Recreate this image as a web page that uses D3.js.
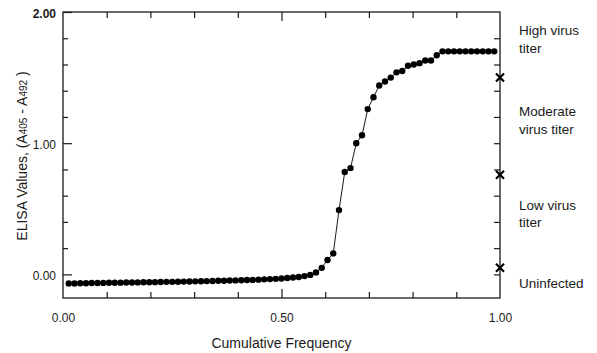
<!DOCTYPE html>
<html>
<head>
<meta charset="utf-8">
<script src="https://cdn.jsdelivr.net/npm/d3@7"></script>
<style>
  body { margin: 0; background: #fff; }
  svg { font-family: "Liberation Sans", Arial, sans-serif; }
</style>
</head>
<body>
<div id="my_dataviz"></div>
<script>
// ELISA values sorted, plotted against cumulative frequency
var elisa = [
  -0.070, -0.070, -0.068, -0.067, -0.066, -0.066, -0.065, -0.064, -0.064, -0.063,
  -0.062, -0.062, -0.061, -0.060, -0.060, -0.059, -0.058, -0.057, -0.057, -0.056,
  -0.055, -0.054, -0.053, -0.052, -0.051, -0.050, -0.049, -0.048, -0.047, -0.046,
  -0.045, -0.043, -0.042, -0.040, -0.038, -0.036, -0.034, -0.031, -0.028, -0.024,
  -0.020, -0.013, -0.004, 0.015, 0.05, 0.11, 0.16, 0.49, 0.78, 0.81,
  1.00, 1.06, 1.26, 1.35, 1.44, 1.47, 1.50, 1.54, 1.55, 1.59,
  1.60, 1.61, 1.63, 1.63, 1.67, 1.70, 1.70, 1.70, 1.70, 1.70,
  1.70, 1.70, 1.70, 1.70, 1.70
];
var freq = elisa.map(function(d, i) { return (i + 1) / (elisa.length + 1); });

// cut-off markers on the right axis
var cutoffs = [1.50, 0.76, 0.05];
var zones = [
  ["High virus", "titer"],
  ["Moderate", "virus titer"],
  ["Low virus", "titer"],
  ["Uninfected"]
];
var zoneY = [1.86, 1.24, 0.53, -0.07];

var xTicks = [0, 0.5, 1];
var xMinor = [0.1, 0.2, 0.3, 0.4, 0.5, 0.6, 0.7, 0.8, 0.9];
var yTicks = [0, 1, 2];
var yMinor = [0.2, 0.4, 0.6, 0.8, 1.2, 1.4, 1.6, 1.8];
var yRight = [0, 0.2, 0.4, 0.6, 0.8, 1.0, 1.2, 1.4, 1.6, 1.8];

var W = 597, H = 353;
var svg = d3.select("#my_dataviz").append("svg").attr("width", W).attr("height", H);

var x = d3.scaleLinear().domain([0, 1]).range([63, 500]);
var y = d3.scaleLinear().domain([-0.18, 2]).range([298, 12]);

var ink = "#1a1a1a";

// frame
svg.append("rect").attr("x", x(0)).attr("y", y(2)).attr("width", x(1) - x(0)).attr("height", y(-0.18) - y(2))
  .attr("fill", "none").attr("stroke", ink).attr("stroke-width", 1.3);

function tickStyle(g) {
  g.select(".domain").remove();
  g.selectAll(".tick line").attr("stroke", ink).attr("stroke-width", 1.2);
}

// bottom ticks (inward)
svg.append("g").attr("transform", "translate(0," + y(-0.18) + ")")
  .call(d3.axisBottom(x).tickValues(xMinor).tickSize(-6).tickFormat(""))
  .call(tickStyle)
  .selectAll(".tick line").filter(function(d) { return d === 0.5; }).attr("y2", -9);
// top ticks
svg.append("g").attr("transform", "translate(0," + y(2) + ")")
  .call(d3.axisTop(x).tickValues(xMinor).tickSize(-6).tickFormat(""))
  .call(tickStyle)
  .selectAll(".tick line").filter(function(d) { return d === 0.5; }).attr("y2", 9);
// left ticks
svg.append("g").attr("transform", "translate(" + x(0) + ",0)")
  .call(d3.axisLeft(y).tickValues(yMinor).tickSize(-5).tickFormat(""))
  .call(tickStyle);
svg.append("g").attr("transform", "translate(" + x(0) + ",0)")
  .call(d3.axisLeft(y).tickValues(yTicks).tickSize(-9).tickFormat(""))
  .call(tickStyle);
// right ticks
svg.append("g").attr("transform", "translate(" + x(1) + ",0)")
  .call(d3.axisRight(y).tickValues(yRight).tickSize(-6).tickFormat(""))
  .call(tickStyle);

// tick labels
svg.append("g").attr("transform", "translate(0," + y(-0.18) + ")")
  .call(d3.axisBottom(x).tickValues(xTicks).tickSize(0).tickPadding(15).tickFormat(d3.format(".2f")))
  .call(function(g) {
    g.select(".domain").remove();
    g.selectAll("text").attr("font-size", "12px").attr("fill", ink).attr("font-family", null);
  });
svg.append("g").attr("transform", "translate(" + x(0) + ",0)")
  .call(d3.axisLeft(y).tickValues(yTicks).tickSize(0).tickPadding(7).tickFormat(d3.format(".2f")))
  .call(function(g) {
    g.select(".domain").remove();
    g.selectAll("text").attr("font-size", "12px").attr("fill", ink).attr("font-family", null)
      .attr("dy", "0.45em")
      .attr("font-weight", function(d) { return d === 2 ? "bold" : null; });
  });

// axis titles
svg.append("text").attr("x", (x(0) + x(1)) / 2).attr("y", 348).attr("text-anchor", "middle")
  .attr("font-size", "14px").attr("fill", ink).text("Cumulative Frequency");

var yl = svg.append("text").attr("transform", "translate(27," + 156 + ") rotate(-90)")
  .attr("text-anchor", "middle").attr("font-size", "14px").attr("fill", ink);
yl.append("tspan").text("ELISA Values, (A");
yl.append("tspan").attr("font-size", "10px").text("405");
yl.append("tspan").text(" - A");
yl.append("tspan").attr("font-size", "10px").text("492");
yl.append("tspan").text(" )");

// curve
var line = d3.line().x(function(d, i) { return x(freq[i]); }).y(function(d) { return y(d); });
svg.append("path").datum(elisa).attr("d", line).attr("fill", "none").attr("stroke", ink).attr("stroke-width", 1);

svg.selectAll("circle.pt").data(elisa).enter().append("circle")
  .attr("class", "pt")
  .attr("cx", function(d, i) { return x(freq[i]); })
  .attr("cy", function(d) { return y(d); })
  .attr("r", 3.2)
  .attr("fill", "#000");

// cut-off crosses
svg.selectAll("path.cross").data(cutoffs).enter().append("path")
  .attr("class", "cross")
  .attr("transform", function(d) { return "translate(" + x(1) + "," + y(d) + ")"; })
  .attr("d", "M-4,-4L4,4M-4,4L4,-4")
  .attr("stroke", "#000").attr("stroke-width", 2.2);

// zone labels
zones.forEach(function(lines, k) {
  var t = svg.append("text").attr("x", 519).attr("y", y(zoneY[k]))
    .attr("font-size", "13.5px").attr("fill", ink);
  lines.forEach(function(s, j) {
    t.append("tspan").attr("x", 519).attr("dy", j === 0 ? "0.35em" : "1.3em").text(s);
  });
});
</script>
</body>
</html>
